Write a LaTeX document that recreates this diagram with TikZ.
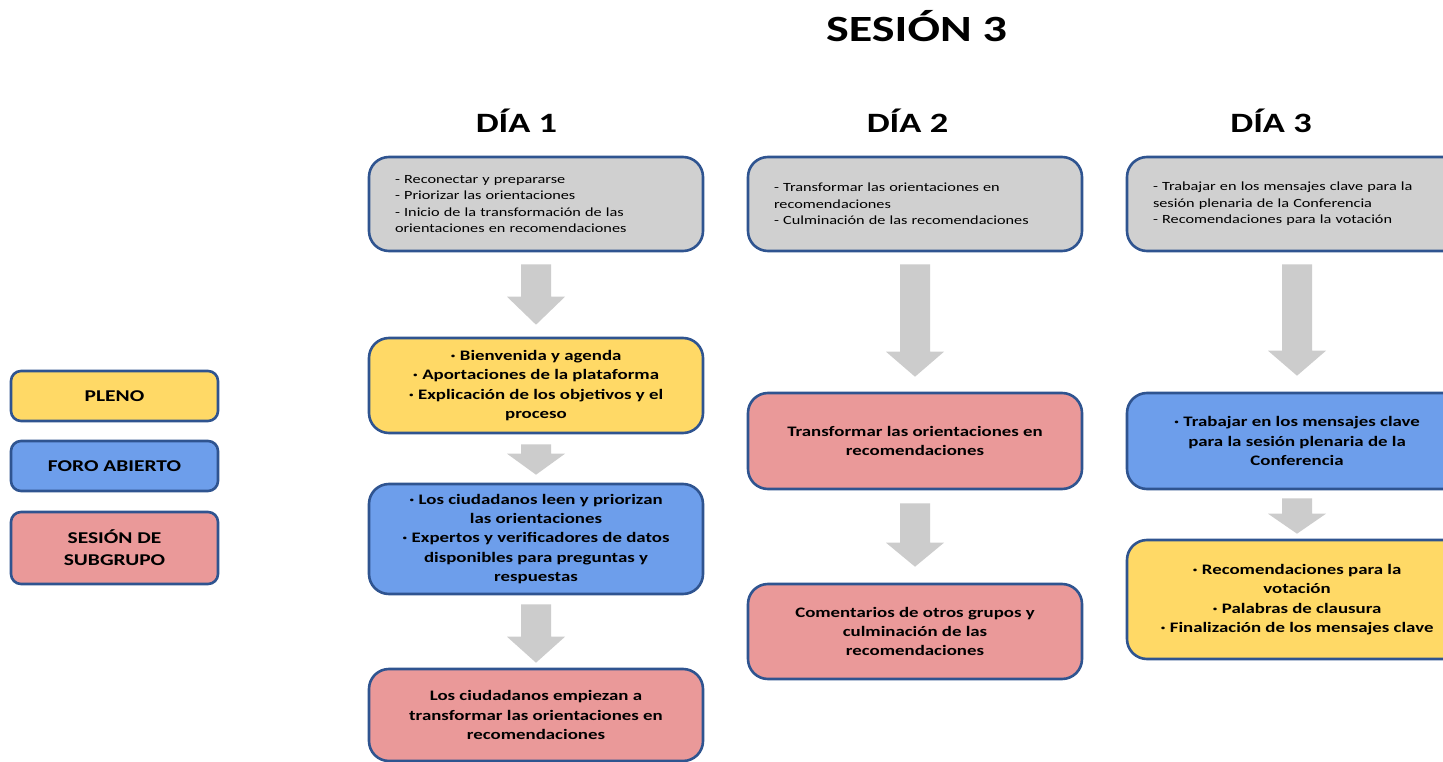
\documentclass[tikz,border=0pt]{standalone}
\usepackage{fontspec}
\setmainfont{Carlito}
\newfontfamily\boxfont[FakeStretch=1.3,WordSpace=1.3]{Carlito}
\newfontfamily\grayfont[FakeStretch=1.3,WordSpace=1.1]{Carlito}
\newfontfamily\legfont[FakeStretch=1.3,WordSpace=1.2]{Carlito}
\newfontfamily\headfont[FakeStretch=1.3]{Carlito}
\usetikzlibrary{calc}
\definecolor{bordc}{HTML}{2F5490}
\definecolor{grayf}{HTML}{D0D0D0}
\definecolor{yell}{HTML}{FFD966}
\definecolor{bluef}{HTML}{6D9EEB}
\definecolor{pinkf}{HTML}{EA9999}
\definecolor{arrg}{HTML}{CCCCCC}
\newcommand{\blockarrow}[5]{%
  \fill[arrg] let \p1=(#1.south), \p2=(#2.north) in
  (\x1-15pt,\y1-#3pt) -- (\x1+15pt,\y1-#3pt) -- (\x1+15pt,\y2+#4pt+#5pt) --
  (\x1+29pt,\y2+#4pt+#5pt) -- (\x1,\y2+#4pt) -- (\x1-29pt,\y2+#4pt+#5pt) --
  (\x1-15pt,\y2+#4pt+#5pt) -- cycle;}
\begin{document}
\begin{tikzpicture}[x=1pt,y=-1pt,
  box/.style={draw=bordc, line width=2.6pt, rounded corners=20pt, inner sep=0pt,
    align=center, font=\boxfont\bfseries\fontsize{14.5}{19.3}\selectfont},
  graybox/.style={box, fill=grayf, align=left, inner xsep=26pt, text width=282pt,
    font=\grayfont\fontsize{12.5}{16.5}\selectfont},
  yelbox/.style={box, fill=yell},
  bluebox/.style={box, fill=bluef},
  pinkbox/.style={box, fill=pinkf},
  legbox/.style={box, rounded corners=10pt, minimum width=207pt, minimum height=50pt,
    font=\legfont\bfseries\fontsize{16.5}{22}\selectfont},
  head/.style={anchor=base, font=\headfont\bfseries\fontsize{28}{30}\selectfont},
]
\useasboundingbox (0,0) rectangle (1443,762);
\fill[white] (0,0) rectangle (1443,762);
\clip (0,0) rectangle (1443,762);

% titles
\node[head, font=\headfont\bfseries\fontsize{37}{40}\selectfont] (title) at (916.5,42) {SESIÓN 3};
\node[head] (d1) at (516.5,133) {DÍA 1};
\node[head] (d2) at (907.5,133) {DÍA 2};
\node[head] (d3) at (1271,133) {DÍA 3};

% legend
\node[legbox, fill=yell] (l1) at (114.5,396) {PLENO};
\node[legbox, fill=bluef] (l2) at (114.5,466) {FORO ABIERTO};
\node[legbox, fill=pinkf, minimum height=72pt] (l3) at (114.5,548) {SESIÓN DE\\SUBGRUPO};

% day 1
\node[graybox, minimum height=94pt] (g1) at (536,204)
  {- Reconectar y prepararse\\- Priorizar las orientaciones\\- Inicio de la transformación de las\\orientaciones en recomendaciones};
\node[yelbox, minimum width=334pt, minimum height=95pt] (y1) at (536,385.5)
  {· Bienvenida y agenda\\· Aportaciones de la plataforma\\· Explicación de los objetivos y el\\proceso};
\node[bluebox, minimum width=334pt, minimum height=110pt] (b1) at (536,539)
  {· Los ciudadanos leen y priorizan\\las orientaciones\\· Expertos y verificadores de datos\\disponibles para preguntas y\\respuestas};
\node[pinkbox, minimum width=334pt, minimum height=92pt] (p1) at (536,715)
  {Los ciudadanos empiezan a\\transformar las orientaciones en\\recomendaciones};

% day 2
\node[graybox, minimum height=94pt] (g2) at (915,204)
  {- Transformar las orientaciones en\\recomendaciones\\- Culminación de las recomendaciones};
\node[pinkbox, minimum width=334pt, minimum height=96pt] (p2) at (915,441)
  {Transformar las orientaciones en\\recomendaciones};
\node[pinkbox, minimum width=334pt, minimum height=95pt] (p3) at (915,631.5)
  {Comentarios de otros grupos y\\culminación de las\\recomendaciones};

% day 3
\node[graybox, minimum height=94pt, text width=288pt] (g3) at (1297,204)
  {- Trabajar en los mensajes clave para la\\sesión plenaria de la Conferencia\\- Recomendaciones para la votación};
\node[bluebox, minimum width=340pt, minimum height=96pt] (b3) at (1297,441)
  {· Trabajar en los mensajes clave\\para la sesión plenaria de la\\Conferencia};
\node[yelbox, minimum width=340pt, minimum height=119pt] (y3) at (1297,599.5)
  {· Recomendaciones para la\\votación\\· Palabras de clausura\\· Finalización de los mensajes clave};

% arrows
\blockarrow{g1}{y1}{12}{12}{28}
\blockarrow{y1}{b1}{10}{8}{21}
\blockarrow{b1}{p1}{9}{5}{26}
\blockarrow{g2}{p2}{12}{15}{25}
\blockarrow{p2}{p3}{13}{16}{24}
\blockarrow{g3}{b3}{12}{16}{25}
\blockarrow{b3}{y3}{8}{5}{20}
\end{tikzpicture}
\end{document}
